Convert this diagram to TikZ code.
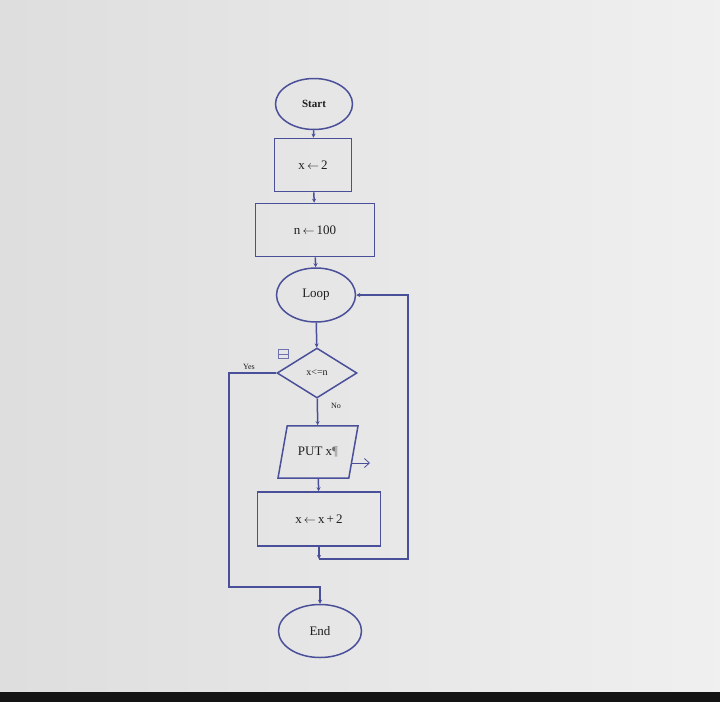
\documentclass[tikz,border=0pt]{standalone}
\usepackage{fontspec}
\setmainfont{Liberation Serif}
\usetikzlibrary{shapes.geometric,arrows.meta}
\definecolor{flowline}{HTML}{4A4F9A}
\definecolor{flowtext}{HTML}{1E1E1E}
\tikzset{
  TermStyle/.style = { ellipse, draw = flowline, line width=1.5pt, inner sep=0pt,
                       minimum width=77pt, minimum height=51pt,
                       text = flowtext, font = \fontsize{13}{15}\selectfont },
  BoxStyle/.style  = { rectangle, draw = flowline, line width=1.6pt, inner sep=0pt,
                       minimum height=53pt,
                       text = flowtext, font = \fontsize{13}{15}\selectfont },
  TestStyle/.style = { diamond, draw = flowline, line width=1.5pt, inner sep=0pt,
                       minimum width=80pt, minimum height=50pt,
                       text = flowtext, font = \fontsize{10}{12}\selectfont },
  IOStyle/.style   = { trapezium, trapezium left angle=80, trapezium right angle=100,
                       trapezium stretches body, draw = flowline, line width=1.5pt,
                       inner xsep=0pt, inner ysep=21pt, minimum width=80pt,
                       text = flowtext, font = \fontsize{13}{15}\selectfont },
  LabelStyle/.style = { text = flowtext, font = \fontsize{8}{9}\selectfont },
  EdgeStyle/.style = { draw = flowline, line width=1.5pt, -{Stealth[length=4pt,width=4pt]} }
}
\begin{document}
\begin{tikzpicture}[x=1pt,y=-1pt]
  \useasboundingbox (0,0) rectangle (720,702);
  % screen
  \shade[left color=black!13, right color=black!6] (0,0) rectangle (720,692);
  \fill[black!92] (0,692) rectangle (720,702);
  % nodes
  \node[TermStyle, font=\fontsize{11}{13}\selectfont\bfseries](Start) at (314,104) {Start};
  \node[BoxStyle, minimum width=77pt](SetX) at (313,165) {x\,$\leftarrow$\,2};
  \node[BoxStyle, minimum width=119pt](SetN) at (315,230) {n\,$\leftarrow$\,100};
  \node[TermStyle, minimum width=79pt, minimum height=54pt](Loop) at (316,295) {Loop};
  \node[TestStyle](Test) at (317,373) {x<=n};
  \node[IOStyle](Put) at (318,452) {PUT x\textcolor{black!55}{¶}};
  \node[BoxStyle, minimum width=123pt, minimum height=54pt](Inc) at (319,519) {x\,$\leftarrow$\,x\,+\,2};
  \node[TermStyle, minimum width=83pt, minimum height=53pt](End) at (320,631) {End};
  % marks
  \node[draw=flowline!80, thick, minimum width=10pt, minimum height=9pt, inner sep=0pt](Box) at (283,354) {};
  \draw[flowline!80, thick] (Box.west) -- (Box.east);
  \coordinate (TabA) at (351,463);
  \coordinate (TabB) at (370,463);
  \draw[flowline, thick, -{Straight Barb[length=5pt,width=9pt]}] (TabA) -- (TabB);
  % labels
  \node[LabelStyle](Yes) at (249,367) {Yes};
  \node[LabelStyle](No) at (336,406) {No};
  % connectors
  \coordinate (Join) at (319,559);
  \coordinate (Right) at (408,559);
  \coordinate (Left) at (229,587);
  \draw[EdgeStyle] (Start) -- (SetX);
  \draw[EdgeStyle] (SetX) -- (SetN);
  \draw[EdgeStyle] (SetN) -- (Loop);
  \draw[EdgeStyle] (Loop) -- (Test);
  \draw[EdgeStyle] (Test) -- (Put);
  \draw[EdgeStyle] (Put) -- (Inc);
  \draw[EdgeStyle] (Inc) -- (Join);
  \draw[EdgeStyle] (Join) -- (Right) |- (Loop.east);
  \draw[EdgeStyle] (Test.west) -| (Left) -| (End.north);
\end{tikzpicture}
\end{document}
